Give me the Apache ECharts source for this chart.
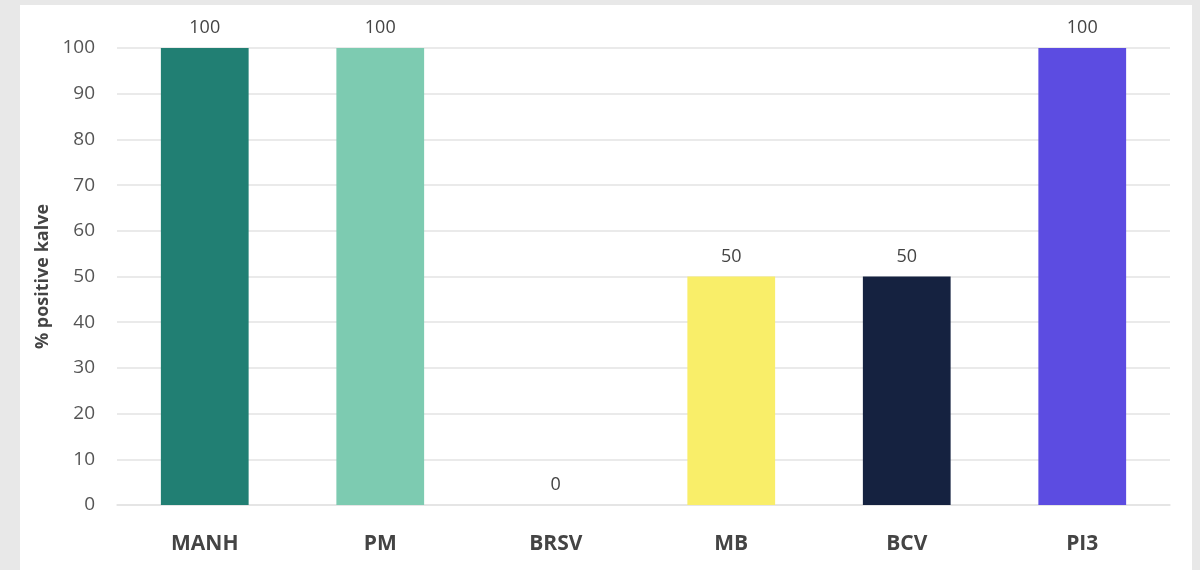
<!DOCTYPE html>
<html><head><meta charset="utf-8">
<script src="https://cdn.jsdelivr.net/npm/echarts@6/dist/echarts.min.js"></script>
<style>
html,body{margin:0;padding:0;background:#e8e8e8;}
#wrap{position:absolute;left:20px;top:5px;width:1172px;height:565px;background:#fff;}
#c{width:1172px;height:565px;}
</style></head><body>
<div id="wrap"><div id="c"></div></div>
<script>
const categories = ['MANH','PM','BRSV','MB','BCV','PI3'];
const values = [100,100,0,50,50,100];
const barColors = ['#217f73','#7dcbb1','#9fd9c5','#f9ee69','#152240','#5c4ce1'];
const yTicks = [0,10,20,30,40,50,60,70,80,90,100];

const chart = echarts.init(document.getElementById('c'));
chart.setOption({
  animation:false,
  grid:{left:97,right:22,top:43,bottom:65},
  xAxis:{type:'category',data:categories,
    axisLine:{show:true,lineStyle:{color:'#e3e3e3',width:1.5}},
    axisTick:{show:false},
    axisLabel:{color:'#444',fontSize:21,fontWeight:'bold',fontFamily:'Open Sans',margin:29}},
  yAxis:{type:'value',min:0,max:100,interval:10,
    name:'% positive kalve',nameLocation:'middle',nameGap:59,
    nameTextStyle:{color:'#444',fontSize:18,fontWeight:'bold',fontFamily:'Open Sans'},
    axisLabel:{color:'#555',fontSize:19,fontFamily:'Open Sans',margin:22,
      formatter:v=>yTicks.includes(v)?String(v):''},
    splitLine:{lineStyle:{color:'#e3e3e3',width:1.5}},
    axisLine:{show:false},axisTick:{show:false}},
  series:[{type:'bar',barWidth:'50%',
    data:values.map((v,i)=>({value:v,itemStyle:{color:barColors[i]}})),
    label:{show:true,position:'top',distance:11,color:'#444',fontSize:18,fontFamily:'Open Sans'}}]
});
</script></body></html>
